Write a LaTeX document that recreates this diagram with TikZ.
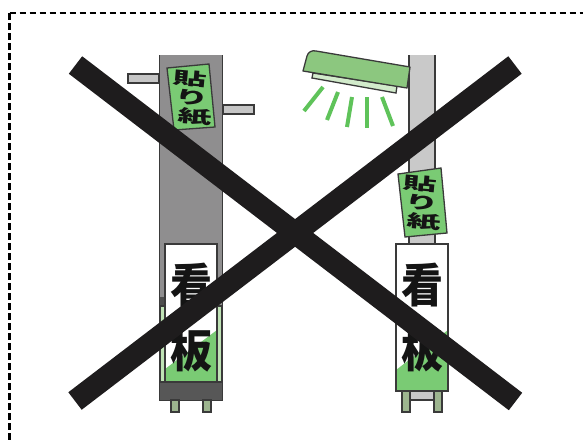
\documentclass[tikz,border=0pt]{standalone}
\usepackage{fontspec}
\newfontfamily\cjk{Noto Sans CJK JP}
\definecolor{pole}{HTML}{8F8E8F}
\definecolor{polel}{HTML}{C6C6C6}
\definecolor{edge}{HTML}{3A3A3A}
\definecolor{grn}{HTML}{7ACB74}
\definecolor{grnl}{HTML}{BFE3B5}
\definecolor{foot}{HTML}{9DB58F}
\definecolor{lamp}{HTML}{8CC77F}
\definecolor{ray}{HTML}{5FC35A}
\definecolor{cross}{HTML}{1E1C1D}
\tikzset{
  ln/.style={draw=edge,line width=1.3pt},
  bar/.style={cross,line width=22pt,line cap=butt},
  raystroke/.style={ray,line width=4pt},
  signtxt/.style={font=\cjk\bfseries\fontsize{42pt}{42pt}\selectfont,text=black!92,inner sep=0pt,transform shape,yscale=1.1},
  sticktxt/.style={font=\cjk\bfseries\fontsize{20pt}{20pt}\selectfont,text=black!92,inner sep=0pt,transform shape,rotate=-5,xscale=1.7,yscale=.85}
}
\begin{document}
\begin{tikzpicture}[x=1pt,y=-1pt]
\useasboundingbox (0,0) rectangle (588,442);
\fill[white] (0,0) rectangle (588,442);
% frame
\draw[black,line width=2.6pt,dash pattern=on 6pt off 4pt] (9.5,13) -- (583,13);
\draw[black,line width=3pt,dash pattern=on 6.5pt off 3.5pt] (9.5,13) -- (9.5,442);
% left pole
\draw[ln,fill=pole] (159.5,55) -- (159.5,400) -- (222.5,400) -- (222.5,55);
\fill[edge!90] (160,297) rectangle (165,306);
\fill[edge!85] (160,382) rectangle (222,400);
\draw[ln,fill=grnl] (160,306) rectangle (165,382);
\draw[ln,fill=grnl] (217,306) rectangle (222,382);
\draw[ln,fill=foot] (171,400) rectangle (179,412);
\draw[ln,fill=foot] (203,400) rectangle (211,412);
\draw[ln,fill=polel] (128,74) rectangle (159,83);
\draw[ln,fill=polel] (223,105) rectangle (254,114);
% left sign
\fill[white] (165,244) rectangle (217,382);
\fill[grn] (165,369) -- (217,330) -- (217,382) -- (165,382) -- cycle;
\draw[ln] (165,244) rectangle (217,382);
\node[signtxt] (kanL) at (191,285) {看};
\node[signtxt] (banL) at (191,350) {板};
% left sticker
\draw[ln,fill=grn] (167,68) -- (209,64) -- (215,127) -- (174,130) -- cycle;
\node[sticktxt] (hL) at (190,79) {貼};
\node[sticktxt] (rL) at (192,98) {り};
\node[sticktxt] (kL) at (195,117) {紙};
% right pole
\draw[ln,fill=polel!95!white] (409,55) -- (409,400) -- (435,400) -- (435,55);
\draw[ln,fill=foot] (402,391) rectangle (410,412);
\draw[ln,fill=foot] (434,391) rectangle (442,412);
% right sign
\fill[white] (396,244) rectangle (448,391);
\fill[grn] (396,370) -- (448,330) -- (448,391) -- (396,391) -- cycle;
\draw[ln] (396,244) rectangle (448,391);
\node[signtxt] (kanR) at (422,285) {看};
\node[signtxt] (banR) at (422,350) {板};
% right sticker
\draw[ln,fill=grn] (398,174) -- (441,168) -- (447,233) -- (405,237) -- cycle;
\node[sticktxt] (hR) at (420,184) {貼};
\node[sticktxt] (rR) at (422,203) {り};
\node[sticktxt] (kR) at (424,222) {紙};
% lamp
\draw[ln,fill=grnl!70!white] (313,73) -- (312,78) -- (396,93) -- (397,86) -- cycle;
\draw[ln,fill=lamp,line join=round] (303,71) -- (307,56) .. controls (308,52) and (312,50) .. (316,51) -- (410,67) -- (407,88) -- cycle;
\draw[raystroke] (323,87) -- (304,111);
\draw[raystroke] (338,92) -- (327,120);
\draw[raystroke] (352,97) -- (347,127);
\draw[raystroke] (367,97) -- (367,128);
\draw[raystroke] (382,97) -- (393,126);
% cross
\draw[bar] (75.5,65) -- (515.5,401.5);
\draw[bar] (515,65) -- (75,401);
\end{tikzpicture}
\end{document}
